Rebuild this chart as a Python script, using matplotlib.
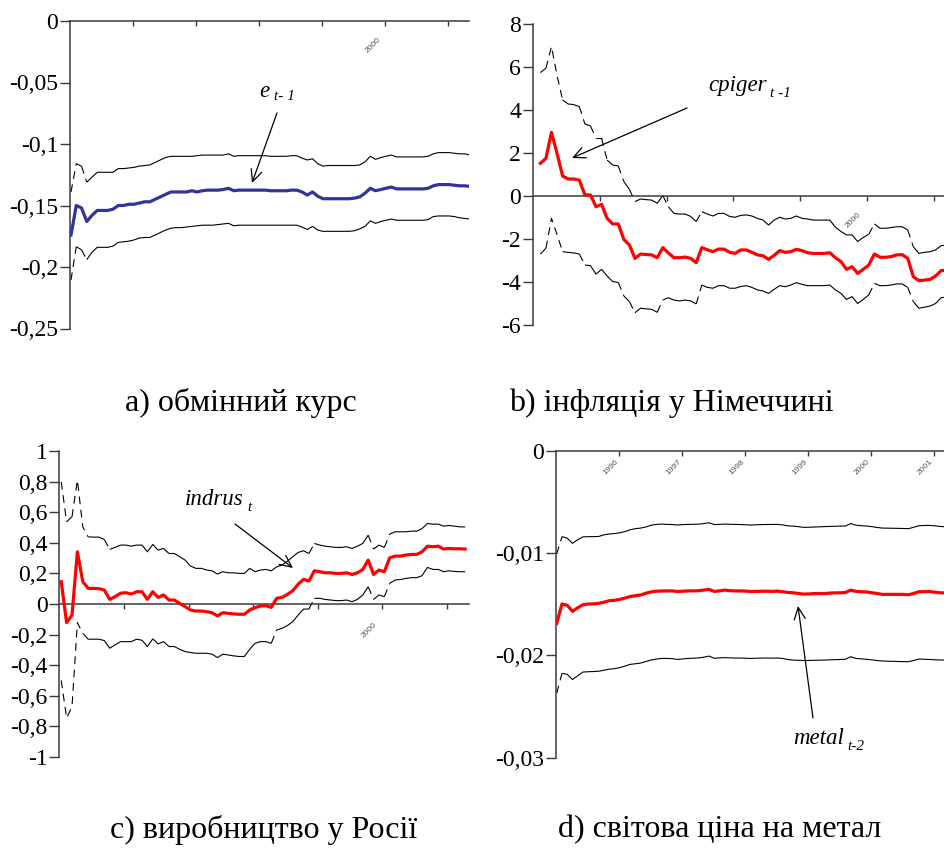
import numpy as np
import matplotlib
matplotlib.use("Agg")
import matplotlib.pyplot as plt
from matplotlib.collections import LineCollection
from matplotlib.patches import FancyArrowPatch

plt.rcParams['font.family'] = ['Liberation Serif', 'DejaVu Serif']

# ---------------- data ----------------
year_ticks = [1996, 1997, 1998, 1999, 2000, 2001]

# a) exchange rate coefficient, monthly recursive estimates
a_start = 1995.016
a_coef = [-0.174, -0.150, -0.152, -0.163, -0.158, -0.154, -0.154, -0.154, -0.153, -0.150,
          -0.150, -0.149, -0.149, -0.148, -0.147, -0.147, -0.145, -0.143, -0.141, -0.139,
          -0.139, -0.139, -0.139, -0.138, -0.139, -0.138, -0.1375, -0.1375, -0.1375, -0.137,
          -0.136, -0.138, -0.1375, -0.1375, -0.1375, -0.1375, -0.1375, -0.1375, -0.138, -0.138,
          -0.138, -0.138, -0.1375, -0.1375, -0.139, -0.1415, -0.139, -0.1425, -0.1445, -0.1445,
          -0.1445, -0.1445, -0.1445, -0.1445, -0.144, -0.143, -0.140, -0.136, -0.138, -0.137,
          -0.136, -0.135, -0.1365, -0.1365, -0.1365, -0.1365, -0.1365, -0.1365, -0.136, -0.134,
          -0.133, -0.133, -0.133, -0.1335, -0.134, -0.134, -0.1345]
a_upper = [-0.139, -0.116, -0.118, -0.131, -0.127, -0.123, -0.123, -0.123, -0.123, -0.120,
           -0.120, -0.1195, -0.119, -0.118, -0.1175, -0.117, -0.115, -0.113, -0.111, -0.110,
           -0.110, -0.110, -0.110, -0.110, -0.1095, -0.109, -0.109, -0.109, -0.109, -0.109,
           -0.108, -0.110, -0.1095, -0.1095, -0.1095, -0.1095, -0.1095, -0.1095, -0.110, -0.110,
           -0.110, -0.110, -0.1095, -0.1095, -0.1115, -0.113, -0.112, -0.116, -0.118, -0.1175,
           -0.1175, -0.1175, -0.1175, -0.1175, -0.1175, -0.117, -0.1145, -0.110, -0.1125, -0.111,
           -0.110, -0.109, -0.1105, -0.1105, -0.1105, -0.1105, -0.1105, -0.1105, -0.110, -0.108,
           -0.107, -0.107, -0.107, -0.1075, -0.108, -0.108, -0.109]
a_lower = [-0.2106, -0.1835, -0.186, -0.194, -0.188, -0.184, -0.184, -0.184, -0.183, -0.180,
           -0.1795, -0.179, -0.178, -0.1765, -0.176, -0.176, -0.174, -0.172, -0.170, -0.1685,
           -0.168, -0.168, -0.1675, -0.167, -0.1665, -0.166, -0.166, -0.166, -0.1655, -0.165,
           -0.1645, -0.1665, -0.166, -0.166, -0.166, -0.166, -0.166, -0.166, -0.166, -0.166,
           -0.166, -0.166, -0.166, -0.166, -0.1675, -0.1695, -0.167, -0.170, -0.171, -0.171,
           -0.171, -0.171, -0.171, -0.171, -0.1705, -0.169, -0.167, -0.1625, -0.1645, -0.163,
           -0.162, -0.161, -0.162, -0.162, -0.162, -0.162, -0.162, -0.162, -0.1615, -0.159,
           -0.1585, -0.1585, -0.1585, -0.159, -0.160, -0.1605, -0.161]

# b) German inflation coefficient
b_start = 1995.11
b_coef = [1.52, 1.75, 2.96, 1.98, 0.93, 0.79, 0.79, 0.74, 0.05, 0.05,
          -0.50, -0.39, -1.04, -1.30, -1.30, -2.02, -2.28, -2.90, -2.70, -2.72,
          -2.74, -2.87, -2.40, -2.65, -2.87, -2.87, -2.84, -2.90, -3.10, -2.40,
          -2.50, -2.59, -2.47, -2.47, -2.62, -2.67, -2.51, -2.51, -2.62, -2.74,
          -2.78, -2.95, -2.76, -2.54, -2.62, -2.59, -2.48, -2.54, -2.64, -2.67,
          -2.67, -2.67, -2.64, -2.87, -3.05, -3.41, -3.29, -3.60, -3.41, -3.21,
          -2.70, -2.85, -2.85, -2.82, -2.74, -2.73, -2.90, -3.75, -3.94, -3.91,
          -3.88, -3.72, -3.47, -3.45]
b_upper = [5.74, 5.94, 6.95, 5.60, 4.47, 4.28, 4.25, 4.16, 3.35, 3.26,
           2.68, 2.68, 1.67, 1.44, 1.40, 0.67, 0.31, -0.26, -0.14, -0.17,
           -0.19, -0.34, 0.02, -0.50, -0.81, -0.84, -0.84, -0.95, -1.19, -0.73,
           -0.84, -0.93, -0.81, -0.81, -0.95, -0.99, -0.90, -0.88, -0.93, -1.04,
           -1.12, -1.35, -1.12, -0.99, -1.07, -1.04, -0.93, -1.04, -1.07, -1.12,
           -1.12, -1.12, -1.12, -1.45, -1.65, -1.81, -1.81, -2.12, -1.93, -1.78,
           -1.30, -1.50, -1.50, -1.47, -1.43, -1.43, -1.58, -2.36, -2.67, -2.62,
           -2.59, -2.51, -2.31, -2.28]
b_lower = [-2.70, -2.43, -1.04, -1.80, -2.59, -2.62, -2.65, -2.70, -3.21, -3.24,
           -3.63, -3.41, -3.72, -3.98, -4.02, -4.65, -4.91, -5.43, -5.22, -5.25,
           -5.27, -5.41, -4.84, -4.73, -4.84, -4.88, -4.84, -4.88, -5.02, -4.14,
           -4.25, -4.29, -4.17, -4.17, -4.29, -4.29, -4.21, -4.17, -4.25, -4.37,
           -4.42, -4.53, -4.34, -4.17, -4.22, -4.14, -4.03, -4.11, -4.17, -4.17,
           -4.17, -4.17, -4.14, -4.37, -4.53, -4.81, -4.68, -5.00, -4.81, -4.60,
           -4.06, -4.17, -4.17, -4.14, -4.09, -4.09, -4.25, -4.91, -5.22, -5.17,
           -5.12, -5.00, -4.73, -4.70]

# c) Russian industrial production coefficient
c_start = 1995.03
c_coef = [0.146, -0.122, -0.072, 0.341, 0.146, 0.102, 0.102, 0.100, 0.091, 0.030,
          0.048, 0.070, 0.074, 0.065, 0.080, 0.080, 0.030, 0.080, 0.043, 0.059,
          0.026, 0.026, 0.004, -0.017, -0.039, -0.046, -0.046, -0.050, -0.057, -0.078,
          -0.057, -0.061, -0.065, -0.067, -0.067, -0.039, -0.024, -0.013, -0.011, -0.022,
          0.037, 0.043, 0.063, 0.087, 0.130, 0.161, 0.150, 0.217, 0.211, 0.204,
          0.204, 0.200, 0.200, 0.204, 0.193, 0.204, 0.226, 0.287, 0.193, 0.222,
          0.211, 0.302, 0.313, 0.313, 0.320, 0.324, 0.324, 0.341, 0.378, 0.374,
          0.378, 0.359, 0.363, 0.361, 0.361, 0.359]
c_upper = [0.798, 0.537, 0.570, 0.809, 0.504, 0.439, 0.437, 0.437, 0.422, 0.357,
           0.370, 0.385, 0.385, 0.378, 0.385, 0.385, 0.341, 0.389, 0.352, 0.363,
           0.330, 0.330, 0.309, 0.287, 0.248, 0.233, 0.233, 0.222, 0.217, 0.196,
           0.211, 0.204, 0.204, 0.200, 0.200, 0.233, 0.211, 0.222, 0.226, 0.217,
           0.243, 0.254, 0.280, 0.309, 0.337, 0.348, 0.330, 0.396, 0.385, 0.378,
           0.374, 0.370, 0.370, 0.374, 0.363, 0.378, 0.396, 0.450, 0.359, 0.385,
           0.370, 0.457, 0.472, 0.472, 0.472, 0.476, 0.476, 0.493, 0.526, 0.522,
           0.522, 0.509, 0.513, 0.509, 0.504, 0.504]
c_lower = [-0.500, -0.746, -0.670, -0.122, -0.191, -0.230, -0.230, -0.230, -0.239, -0.289,
           -0.267, -0.246, -0.246, -0.246, -0.230, -0.237, -0.278, -0.228, -0.261, -0.246,
           -0.278, -0.278, -0.296, -0.311, -0.317, -0.322, -0.322, -0.322, -0.328, -0.350,
           -0.328, -0.333, -0.339, -0.343, -0.343, -0.296, -0.257, -0.246, -0.246, -0.257,
           -0.170, -0.159, -0.141, -0.115, -0.072, -0.033, -0.033, 0.037, 0.037, 0.030,
           0.026, 0.022, 0.022, 0.026, 0.015, 0.030, 0.059, 0.113, 0.030, 0.059,
           0.048, 0.135, 0.157, 0.160, 0.167, 0.172, 0.172, 0.185, 0.239, 0.226,
           0.226, 0.211, 0.217, 0.213, 0.211, 0.211]

# d) world metal price coefficient
d_start = 1995.016
d_coef = [-0.01687, -0.01498, -0.01510, -0.01570, -0.01535, -0.01505, -0.01498, -0.01497, -0.01492, -0.01480,
          -0.01466, -0.01462, -0.01453, -0.01440, -0.01425, -0.01417, -0.01410, -0.01392, -0.01380, -0.01373,
          -0.01371, -0.01370, -0.01370, -0.01376, -0.01373, -0.01370, -0.01370, -0.01368, -0.01362, -0.01355,
          -0.01375, -0.01370, -0.01362, -0.01368, -0.01370, -0.01370, -0.01372, -0.01376, -0.01375, -0.01373,
          -0.01373, -0.01375, -0.01372, -0.01378, -0.01385, -0.01388, -0.01395, -0.01401, -0.01400, -0.01396,
          -0.01396, -0.01396, -0.01392, -0.01389, -0.01389, -0.01385, -0.01362, -0.01375, -0.01378, -0.01380,
          -0.01388, -0.01395, -0.01404, -0.01404, -0.01404, -0.01404, -0.01404, -0.01408, -0.01395, -0.01378,
          -0.01378, -0.01376, -0.01383, -0.01388, -0.01390, -0.01390, -0.01390]
d_upper = [-0.0101, -0.0084, -0.00855, -0.00905, -0.00870, -0.00842, -0.00840, -0.00840, -0.00838, -0.00822,
           -0.00814, -0.00810, -0.00802, -0.00790, -0.00772, -0.00762, -0.00756, -0.00745, -0.00728, -0.00720,
           -0.00717, -0.00720, -0.00722, -0.00726, -0.00722, -0.00720, -0.00719, -0.00718, -0.00712, -0.00704,
           -0.00722, -0.00720, -0.00717, -0.00719, -0.00720, -0.00722, -0.00724, -0.00726, -0.00724, -0.00722,
           -0.00721, -0.00721, -0.00720, -0.00725, -0.00734, -0.00737, -0.00742, -0.00749, -0.00748, -0.00746,
           -0.00744, -0.00742, -0.00740, -0.00738, -0.00737, -0.00736, -0.00712, -0.00728, -0.00733, -0.00736,
           -0.00742, -0.00750, -0.00756, -0.00757, -0.00758, -0.00759, -0.00760, -0.00762, -0.00748, -0.00733,
           -0.00731, -0.00730, -0.00734, -0.00740, -0.00743, -0.00743, -0.00744]
d_lower = [-0.0237, -0.02176, -0.02185, -0.02236, -0.02200, -0.02163, -0.02160, -0.02158, -0.02155, -0.02145,
           -0.02135, -0.02130, -0.02120, -0.02105, -0.02088, -0.02082, -0.02075, -0.02060, -0.02045, -0.02036,
           -0.02030, -0.02030, -0.02032, -0.02040, -0.02035, -0.02030, -0.02028, -0.02025, -0.02018, -0.02007,
           -0.02028, -0.02025, -0.02022, -0.02025, -0.02026, -0.02026, -0.02028, -0.02030, -0.02028, -0.02027,
           -0.02026, -0.02027, -0.02026, -0.02030, -0.02040, -0.02046, -0.02048, -0.02050, -0.02050, -0.02048,
           -0.02047, -0.02046, -0.02044, -0.02042, -0.02040, -0.02038, -0.02013, -0.02030, -0.02034, -0.02038,
           -0.02044, -0.02050, -0.02055, -0.02057, -0.02058, -0.02060, -0.02061, -0.02062, -0.02050, -0.02036,
           -0.02038, -0.02040, -0.02043, -0.02045, -0.02046, -0.02046, -0.02047]

a_yticks = [0, -0.05, -0.1, -0.15, -0.2, -0.25]
a_ylabels = ['0', '-0,05', '-0,1', '-0,15', '-0,2', '-0,25']
b_yticks = [8, 6, 4, 2, 0, -2, -4, -6]
b_ylabels = ['8', '6', '4', '2', '0', '-2', '-4', '-6']
c_yticks = [1, 0.8, 0.6, 0.4, 0.2, 0, -0.2, -0.4, -0.6, -0.8, -1]
c_ylabels = ['1', '0,8', '0,6', '0,4', '0,2', '0', '-0,2', '-0,4', '-0,6', '-0,8', '-1']
d_yticks = [0, -0.01, -0.02, -0.03]
d_ylabels = ['0', '-0,01', '-0,02', '-0,03']

a_xlabels = ['', '', '', '', '2000', '']
b_xlabels = ['', '', '', '', '2000', '']
c_xlabels = ['', '', '', '', '2000', '']
d_xlabels = ['1996', '1997', '1998', '1999', '2000', '2001']

captions = ['a) обмінний курс', 'b) інфляція у Німеччині',
            'c) виробництво у Росії', 'd) світова ціна на метал']

# ---------------- figure ----------------
W, H = 945, 849
fig = plt.figure(figsize=(W / 100, H / 100), dpi=100)


def box(left, top, right, bottom):
    return [left / W, 1 - bottom / H, (right - left) / W, (bottom - top) / H]


def fpt(x, y):
    return (x / W, 1 - y / H)


SPINE = '#3a3a3a'


def setup(ax, xlim, ylim, yticks, ylabels, xlabels, lab_off):
    ax.set_xlim(*xlim)
    ax.set_ylim(*ylim)
    for s in ('top', 'right'):
        ax.spines[s].set_visible(False)
    ax.spines['bottom'].set_position(('data', 0))
    for s in ('left', 'bottom'):
        ax.spines[s].set_color(SPINE)
        ax.spines[s].set_linewidth(1.1)
    ax.set_yticks(yticks)
    ax.set_yticklabels(ylabels)
    ax.tick_params(axis='y', direction='out', length=7, width=1.0, color=SPINE,
                   pad=1.5, labelsize=17)
    ax.set_xticks(year_ticks)
    ax.set_xticklabels([])
    ax.tick_params(axis='x', direction='out', length=3.5, width=1.0, color=SPINE)
    ax.patch.set_visible(False)
    for yr, lab in zip(year_ticks, xlabels):
        if lab:
            ax.annotate(lab, xy=(yr, 0), xycoords='data', xytext=lab_off,
                        textcoords='offset pixels', rotation=45,
                        rotation_mode='anchor', ha='center', va='center',
                        fontsize=6, color='#555555',
                        family=['Liberation Sans', 'DejaVu Sans'],
                        annotation_clip=False)


def band(ax, x, y, thr=1.6):
    """Thin confidence band: steep segments dashed, gentle ones solid."""
    x = np.asarray(x, float)
    y = np.asarray(y, float)
    p = ax.transData.transform(np.column_stack([x, y]))
    runs = []
    cur, cur_style = [(x[0], y[0])], None
    for k in range(len(x) - 1):
        dx = abs(p[k + 1, 0] - p[k, 0])
        dy = abs(p[k + 1, 1] - p[k, 1])
        style = 'dash' if dy > thr * dx else 'solid'
        if cur_style is None or style == cur_style:
            cur.append((x[k + 1], y[k + 1]))
            cur_style = style
        else:
            runs.append((cur_style, cur))
            cur = [(x[k], y[k]), (x[k + 1], y[k + 1])]
            cur_style = style
    runs.append((cur_style, cur))
    solid = [r for s, r in runs if s == 'solid']
    dash = [r for s, r in runs if s == 'dash']
    ax.add_collection(LineCollection(solid, colors='black', linewidths=0.8,
                                     joinstyle='round', zorder=2))
    ax.add_collection(LineCollection(dash, colors='black', linewidths=0.8,
                                     linestyles=[(0, (7, 5))], zorder=2))


def months(start, n):
    return start + np.arange(n) / 12.0


# a) exchange rate
ax_a = fig.add_axes(box(70, 21, 469, 328.5))
setup(ax_a, (1995, 2001.333), (-0.25, 0), a_yticks, a_ylabels, a_xlabels, (-12, -24))
xa = months(a_start, len(a_coef))
band(ax_a, xa, a_upper)
band(ax_a, xa, a_lower)
ax_a.plot(xa, a_coef, color='#333399', lw=2.3, zorder=3)

# b) inflation in Germany
ax_b = fig.add_axes(box(533, 24, 533 + 6.333 * 66.8, 325))
setup(ax_b, (1995, 2001.333), (-6, 8), b_yticks, b_ylabels, b_xlabels, (-14, -24))
xb = months(b_start, len(b_coef))
band(ax_b, xb, b_upper)
band(ax_b, xb, b_lower)
ax_b.plot(xb, b_coef, color='#ff0000', lw=2.3, zorder=3)

# c) production in Russia
ax_c = fig.add_axes(box(59.3, 451, 469, 757))
setup(ax_c, (1995, 2001.34), (-1, 1), c_yticks, c_ylabels, c_xlabels, (-13, -26))
xc = months(c_start, len(c_coef))
band(ax_c, xc, c_upper)
band(ax_c, xc, c_lower)
ax_c.plot(xc, c_coef, color='#ff0000', lw=2.3, zorder=3)

# d) world metal price
ax_d = fig.add_axes(box(555.7, 450.7, 555.7 + 6.333 * 63, 757.7))
setup(ax_d, (1995, 2001.333), (-0.03, 0), d_yticks, d_ylabels, d_xlabels, (-8, -17))
xd = months(d_start, len(d_coef))
band(ax_d, xd, d_upper)
band(ax_d, xd, d_lower)
ax_d.plot(xd, d_coef, color='#ff0000', lw=2.3, zorder=3)

# variable labels with arrows
arrow = dict(arrowstyle='->,head_length=0.85,head_width=0.4', color='black',
             lw=0.9, shrinkA=0, shrinkB=0)


def label(main, sub, x, y, xs, ys, tail, head):
    fig.text(*fpt(x, y), main, fontsize=16.5, style='italic', va='baseline')
    fig.text(*fpt(xs, ys), sub, fontsize=11, style='italic', va='baseline')
    fig.add_artist(FancyArrowPatch(fpt(*tail), fpt(*head), transform=fig.transFigure,
                                   mutation_scale=10, **arrow))


label('e', 't- 1', 259, 97, 274, 100, (277, 113), (252, 183))
label('cpiger', 't -1', 708, 91, 770, 97, (687, 108), (572, 158))
label('indrus', 't', 185, 505, 247, 511, (235, 524), (293, 568))
label('metal', 't-2', 793, 744, 847, 750, (813, 718), (798, 606))

# panel captions
fig.text(*fpt(241, 403), captions[0], fontsize=23, ha='center', va='center')
fig.text(*fpt(671, 403), captions[1], fontsize=23, ha='center', va='center')
fig.text(*fpt(264, 830), captions[2], fontsize=23, ha='center', va='center')
fig.text(*fpt(720, 830), captions[3], fontsize=23, ha='center', va='center')

fig.savefig('out.png', dpi=100)
